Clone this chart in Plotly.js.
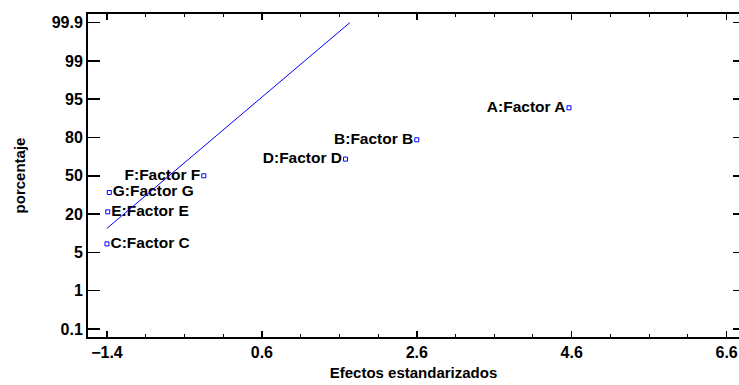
<!DOCTYPE html>
<html>
<head>
<meta charset="utf-8">
<script src="https://cdn.plot.ly/plotly-3.0.1.min.js"></script>
<style>html,body{margin:0;padding:0;background:#fff;}#chart{width:739px;height:385px;}</style>
</head>
<body>
<div id="chart"></div>
<script>
// ---- data ----
const factors = ['A:Factor A','B:Factor B','C:Factor C','D:Factor D','E:Factor E','F:Factor F','G:Factor G'];
const effects = [4.565, 2.60, -1.40, 1.68, -1.39, -0.15, -1.37];
const percent = [92.86, 78.57, 7.14, 64.29, 21.43, 50.0, 35.71];
const labelSide = ['middle left','middle left','middle right','middle left','middle right','middle left','middle right'];
const tickPercents = [0.1, 1, 5, 20, 50, 80, 95, 99, 99.9];
const tickLabels = ['0.1','1','5','20','50','80','95','99','99.9'];
const lineEffects = [-1.40, 1.736];
const linePercent = [12.7, 99.9];

// inverse normal CDF (Acklam)
function normInv(p){
  const a=[-3.969683028665376e+01,2.209460984245205e+02,-2.759285104469687e+02,1.383577518672690e+02,-3.066479806614716e+01,2.506628277459239e+00];
  const b=[-5.447609879822406e+01,1.615858368580409e+02,-1.556989798598866e+02,6.680131188771972e+01,-1.328068155288572e+01];
  const c=[-7.784894002430293e-03,-3.223964580411365e-01,-2.400758277161838e+00,-2.549732539343734e+00,4.374664141464968e+00,2.938163982698783e+00];
  const d=[7.784695709041462e-03,3.224671290700398e-01,2.445134137142996e+00,3.754408661907416e+00];
  const pl=0.02425, ph=1-pl; let q,r;
  if(p<pl){q=Math.sqrt(-2*Math.log(p));return (((((c[0]*q+c[1])*q+c[2])*q+c[3])*q+c[4])*q+c[5])/((((d[0]*q+d[1])*q+d[2])*q+d[3])*q+1);}
  if(p<=ph){q=p-0.5;r=q*q;return (((((a[0]*r+a[1])*r+a[2])*r+a[3])*r+a[4])*r+a[5])*q/(((((b[0]*r+b[1])*r+b[2])*r+b[3])*r+b[4])*r+1);}
  q=Math.sqrt(-2*Math.log(1-p));return -(((((c[0]*q+c[1])*q+c[2])*q+c[3])*q+c[4])*q+c[5])/((((d[0]*q+d[1])*q+d[2])*q+d[3])*q+1);
}
// probability scale: tick levels evenly spaced, piecewise linear in z between them
const tickZ = tickPercents.map(v => normInv(v/100));
function probPos(pct){
  const z = normInv(pct/100);
  for(let i=0;i<tickZ.length-1;i++){
    if(z<=tickZ[i+1] || i===tickZ.length-2){
      return i + (z - tickZ[i])/(tickZ[i+1]-tickZ[i]);
    }
  }
}
const tickPos = tickPercents.map((v,i)=>i);

const fam = 'Arial, "Liberation Sans", sans-serif';
const bold = {family:fam, size:16, color:'#000', weight:'bold'};
const yr = [-0.209, 8.225];

const traces = [
  {
    x: effects, y: percent.map(probPos), text: factors,
    mode: 'markers+text', type: 'scatter', textposition: labelSide,
    textfont: {family:fam, size:15.5, color:'#000', weight:'bold'},
    marker: {symbol:'square-open', size:4, color:'#0000ff', line:{width:1, color:'#0000ff'}},
    hoverinfo: 'none', cliponaxis: false
  },
  {
    x: lineEffects, y: linePercent.map(probPos), yaxis: 'y2',
    mode: 'lines', type: 'scatter', line: {color:'#0000ff', width:1}, hoverinfo: 'none'
  }
];

const layout = {
  width: 739, height: 385,
  margin: {l:88, r:0, t:14, b:48},
  paper_bgcolor: '#fff', plot_bgcolor: '#fff',
  showlegend: false,
  xaxis: {
    range: [-1.645, 6.76], tick0: -1.4, dtick: 2,
    ticks: 'inside', ticklen: 6, tickwidth: 1.5, tickcolor: '#000',
    minor: {dtick: 0.5, tick0: -1.4, ticks: 'inside', ticklen: 3, tickwidth: 1, tickcolor:'#000'},
    showline: true, linewidth: 2, linecolor: '#000', mirror: 'ticks',
    showgrid: false, zeroline: false,
    tickfont: bold, tickformat: '.1f',
    title: {text: 'Efectos estandarizados', font: {family:fam, size:15, color:'#000', weight:'bold'}, standoff: 7}
  },
  yaxis: {
    range: yr, tickmode: 'array', tickvals: tickPos, ticktext: tickLabels,
    ticks: 'inside', ticklen: 12, tickwidth: 1.5, tickcolor: '#000',
    showline: true, linewidth: 2, linecolor: '#000',
    showgrid: false, zeroline: false,
    tickfont: bold,
    title: {text: 'porcentaje', font: {family:fam, size:15, color:'#000', weight:'bold'}, standoff: 22}
  },
  yaxis2: {
    range: yr, overlaying: 'y', side: 'right', tickmode: 'array', tickvals: tickPos,
    ticks: 'inside', ticklen: 6, tickwidth: 1.5, tickcolor: '#000',
    showticklabels: false, showline: false, showgrid: false, zeroline: false
  }
};

Plotly.newPlot('chart', traces, layout, {staticPlot: true, displayModeBar: false});
</script>
</body>
</html>
